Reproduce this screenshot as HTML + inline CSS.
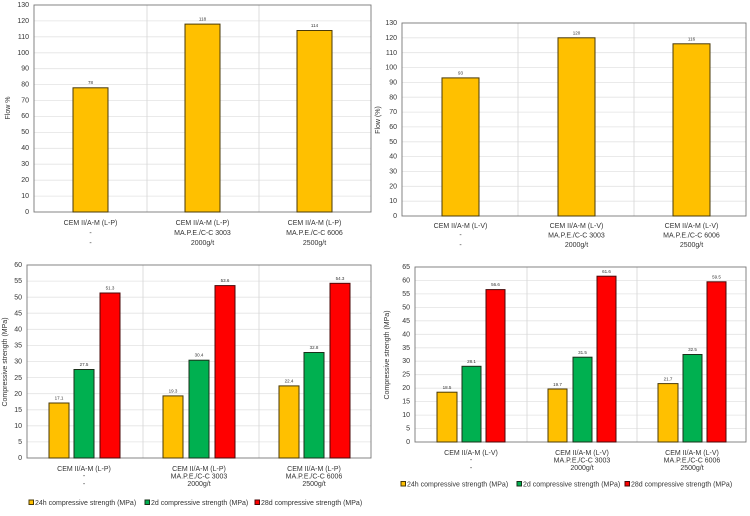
<!DOCTYPE html>
<html><head><meta charset="utf-8"><style>
html,body{margin:0;padding:0;background:#fff;}
svg{display:block;font-family:"Liberation Sans",sans-serif;}
.t{font-size:7px;fill:#333;}
.v{font-size:4.5px;fill:#333;text-anchor:middle;}
.c{font-size:7px;fill:#333;text-anchor:middle;}
.g{stroke:#e3e3e3;stroke-width:0.8;}
.s{stroke:#d6d6d6;stroke-width:0.8;}
.y{fill:#FFC000;stroke:#4a3a08;stroke-width:1;}
.gr{fill:#00B050;stroke:#1a301a;stroke-width:1;}
.r{fill:#FF0000;stroke:#4a0808;stroke-width:1;}
.b{fill:none;stroke:#777;stroke-width:0.9;}
</style></head><body>
<svg width="750" height="516" viewBox="0 0 750 516">
<!-- Chart 1 -->
<g>
<line class="g" x1="34" x2="371" y1="196.1" y2="196.1"/><line class="g" x1="34" x2="371" y1="180.2" y2="180.2"/><line class="g" x1="34" x2="371" y1="164.2" y2="164.2"/><line class="g" x1="34" x2="371" y1="148.3" y2="148.3"/><line class="g" x1="34" x2="371" y1="132.4" y2="132.4"/><line class="g" x1="34" x2="371" y1="116.5" y2="116.5"/><line class="g" x1="34" x2="371" y1="100.5" y2="100.5"/><line class="g" x1="34" x2="371" y1="84.6" y2="84.6"/><line class="g" x1="34" x2="371" y1="68.7" y2="68.7"/><line class="g" x1="34" x2="371" y1="52.8" y2="52.8"/><line class="g" x1="34" x2="371" y1="36.8" y2="36.8"/><line class="g" x1="34" x2="371" y1="20.9" y2="20.9"/>
<line class="s" x1="147" x2="147" y1="5" y2="212"/><line class="s" x1="259" x2="259" y1="5" y2="212"/>
<rect class="b" x="34" y="5" width="337" height="207"/>
<g class="t" text-anchor="end"><text x="29" y="214">0</text><text x="29" y="198">10</text><text x="29" y="182">20</text><text x="29" y="166">30</text><text x="29" y="150">40</text><text x="29" y="134">50</text><text x="29" y="118">60</text><text x="29" y="102.5">70</text><text x="29" y="86.5">80</text><text x="29" y="70.5">90</text><text x="29" y="55">100</text><text x="29" y="39">110</text><text x="29" y="23">120</text><text x="29" y="7">130</text></g>
<rect class="y" x="73" y="87.8" width="35" height="124.2"/><rect class="y" x="185" y="24.1" width="35" height="187.9"/><rect class="y" x="297" y="30.5" width="35" height="181.5"/>
<text class="v" x="90.5" y="84">78</text><text class="v" x="202.5" y="20.5">118</text><text class="v" x="314.5" y="27">114</text>
<text class="t" transform="translate(10,108) rotate(-90)" text-anchor="middle">Flow %</text>
<g class="c"><text x="90.5" y="225">CEM II/A-M (L-P)</text><text x="90.5" y="235">-</text><text x="90.5" y="245">-</text>
<text x="202.5" y="225">CEM II/A-M (L-P)</text><text x="202.5" y="235">MA.P.E./C-C 3003</text><text x="202.5" y="245">2000g/t</text>
<text x="314.5" y="225">CEM II/A-M (L-P)</text><text x="314.5" y="235">MA.P.E./C-C 6006</text><text x="314.5" y="245">2500g/t</text></g>
</g>
<!-- Chart 2 -->
<g>
<line class="g" x1="402" x2="746" y1="201.2" y2="201.2"/><line class="g" x1="402" x2="746" y1="186.3" y2="186.3"/><line class="g" x1="402" x2="746" y1="171.5" y2="171.5"/><line class="g" x1="402" x2="746" y1="156.6" y2="156.6"/><line class="g" x1="402" x2="746" y1="141.8" y2="141.8"/><line class="g" x1="402" x2="746" y1="126.9" y2="126.9"/><line class="g" x1="402" x2="746" y1="112.1" y2="112.1"/><line class="g" x1="402" x2="746" y1="97.2" y2="97.2"/><line class="g" x1="402" x2="746" y1="82.4" y2="82.4"/><line class="g" x1="402" x2="746" y1="67.5" y2="67.5"/><line class="g" x1="402" x2="746" y1="52.7" y2="52.7"/><line class="g" x1="402" x2="746" y1="37.8" y2="37.8"/>
<line class="s" x1="518" x2="518" y1="23" y2="216"/><line class="s" x1="634" x2="634" y1="23" y2="216"/>
<rect class="b" x="402" y="23" width="344" height="193"/>
<g class="t" text-anchor="end"><text x="397" y="218">0</text><text x="397" y="203">10</text><text x="397" y="188.5">20</text><text x="397" y="173.5">30</text><text x="397" y="158.5">40</text><text x="397" y="144">50</text><text x="397" y="129">60</text><text x="397" y="114">70</text><text x="397" y="99.5">80</text><text x="397" y="84.5">90</text><text x="397" y="69.5">100</text><text x="397" y="55">110</text><text x="397" y="40">120</text><text x="397" y="25">130</text></g>
<rect class="y" x="442" y="77.9" width="37" height="138.1"/><rect class="y" x="558" y="37.8" width="37" height="178.2"/><rect class="y" x="673" y="43.8" width="37" height="172.2"/>
<text class="v" x="460.5" y="74.5">93</text><text class="v" x="576.5" y="34.5">120</text><text class="v" x="691.5" y="40.5">116</text>
<text class="t" transform="translate(380,120) rotate(-90)" text-anchor="middle">Flow (%)</text>
<g class="c"><text x="460.5" y="228">CEM II/A-M (L-V)</text><text x="460.5" y="237">-</text><text x="460.5" y="247">-</text>
<text x="576.5" y="228">CEM II/A-M (L-V)</text><text x="576.5" y="237.5">MA.P.E./C-C 3003</text><text x="576.5" y="247">2000g/t</text>
<text x="691.5" y="228">CEM II/A-M (L-V)</text><text x="691.5" y="237.5">MA.P.E./C-C 6006</text><text x="691.5" y="247">2500g/t</text></g>
</g>
<!-- Chart 3 -->
<g>
<line class="g" x1="27" x2="371" y1="441.9" y2="441.9"/><line class="g" x1="27" x2="371" y1="425.8" y2="425.8"/><line class="g" x1="27" x2="371" y1="409.8" y2="409.8"/><line class="g" x1="27" x2="371" y1="393.7" y2="393.7"/><line class="g" x1="27" x2="371" y1="377.6" y2="377.6"/><line class="g" x1="27" x2="371" y1="361.5" y2="361.5"/><line class="g" x1="27" x2="371" y1="345.4" y2="345.4"/><line class="g" x1="27" x2="371" y1="329.3" y2="329.3"/><line class="g" x1="27" x2="371" y1="313.2" y2="313.2"/><line class="g" x1="27" x2="371" y1="297.2" y2="297.2"/><line class="g" x1="27" x2="371" y1="281.1" y2="281.1"/>
<line class="s" x1="143" x2="143" y1="265" y2="458"/><line class="s" x1="259" x2="259" y1="265" y2="458"/>
<rect class="b" x="27" y="265" width="344" height="193"/>
<g class="t" text-anchor="end"><text x="22" y="460">0</text><text x="22" y="444">5</text><text x="22" y="428">10</text><text x="22" y="412">15</text><text x="22" y="396">20</text><text x="22" y="380">25</text><text x="22" y="363.5">30</text><text x="22" y="347.5">35</text><text x="22" y="331.5">40</text><text x="22" y="315.5">45</text><text x="22" y="299.5">50</text><text x="22" y="283">55</text><text x="22" y="267">60</text></g>
<rect class="y" x="49" y="403" width="20" height="55"/><rect class="gr" x="74" y="369.5" width="20" height="88.5"/><rect class="r" x="100" y="293" width="20" height="165"/>
<rect class="y" x="163" y="395.9" width="20" height="62.1"/><rect class="gr" x="189" y="360.2" width="20" height="97.8"/><rect class="r" x="215" y="285.6" width="20" height="172.4"/>
<rect class="y" x="279" y="385.9" width="20" height="72.1"/><rect class="gr" x="304" y="352.5" width="20" height="105.5"/><rect class="r" x="330" y="283.3" width="20" height="174.7"/>
<text class="v" x="59" y="399.5">17.1</text><text class="v" x="84" y="366">27.5</text><text class="v" x="110" y="289.5">51.3</text>
<text class="v" x="173" y="392.5">19.3</text><text class="v" x="199" y="356.5">30.4</text><text class="v" x="225" y="282">53.6</text>
<text class="v" x="289" y="382.5">22.4</text><text class="v" x="314" y="349">32.8</text><text class="v" x="340" y="280">54.3</text>
<text class="t" transform="translate(7,362) rotate(-90)" text-anchor="middle">Compressive strength (MPa)</text>
<g class="c"><text x="84" y="471">CEM II/A-M (L-P)</text><text x="84" y="478">-</text><text x="84" y="486">-</text>
<text x="199" y="471">CEM II/A-M (L-P)</text><text x="199" y="478.5">MA.P.E./C-C 3003</text><text x="199" y="486">2000g/t</text>
<text x="314" y="471">CEM II/A-M (L-P)</text><text x="314" y="478.5">MA.P.E./C-C 6006</text><text x="314" y="486">2500g/t</text></g>
<rect class="y" x="29" y="500" width="4.5" height="4.5"/><text class="t" x="35" y="505">24h compressive strength (MPa)</text>
<rect class="gr" x="145" y="500" width="4.5" height="4.5"/><text class="t" x="151" y="505">2d compressive strength (MPa)</text>
<rect class="r" x="255" y="500" width="4.5" height="4.5"/><text class="t" x="261" y="505">28d compressive strength (MPa)</text>
</g>
<!-- Chart 4 -->
<g>
<line class="g" x1="415" x2="746" y1="428.5" y2="428.5"/><line class="g" x1="415" x2="746" y1="415.1" y2="415.1"/><line class="g" x1="415" x2="746" y1="401.6" y2="401.6"/><line class="g" x1="415" x2="746" y1="388.2" y2="388.2"/><line class="g" x1="415" x2="746" y1="374.7" y2="374.7"/><line class="g" x1="415" x2="746" y1="361.2" y2="361.2"/><line class="g" x1="415" x2="746" y1="347.8" y2="347.8"/><line class="g" x1="415" x2="746" y1="334.3" y2="334.3"/><line class="g" x1="415" x2="746" y1="320.8" y2="320.8"/><line class="g" x1="415" x2="746" y1="307.4" y2="307.4"/><line class="g" x1="415" x2="746" y1="293.9" y2="293.9"/><line class="g" x1="415" x2="746" y1="280.5" y2="280.5"/>
<line class="s" x1="527" x2="527" y1="267" y2="442"/><line class="s" x1="637" x2="637" y1="267" y2="442"/>
<rect class="b" x="415" y="267" width="331" height="175"/>
<g class="t" text-anchor="end"><text x="410" y="444">0</text><text x="410" y="430.5">5</text><text x="410" y="417">10</text><text x="410" y="403.5">15</text><text x="410" y="390">20</text><text x="410" y="376.5">25</text><text x="410" y="363">30</text><text x="410" y="350">35</text><text x="410" y="336.5">40</text><text x="410" y="323">45</text><text x="410" y="309.5">50</text><text x="410" y="296">55</text><text x="410" y="282.5">60</text><text x="410" y="269">65</text></g>
<rect class="y" x="437" y="392.2" width="20" height="49.8"/><rect class="gr" x="462" y="366.3" width="19" height="75.7"/><rect class="r" x="486" y="289.6" width="19" height="152.4"/>
<rect class="y" x="548" y="389" width="19" height="53"/><rect class="gr" x="573" y="357.2" width="19" height="84.8"/><rect class="r" x="597" y="276.2" width="19" height="165.8"/>
<rect class="y" x="658" y="383.6" width="20" height="58.4"/><rect class="gr" x="683" y="354.5" width="19" height="87.5"/><rect class="r" x="707" y="281.8" width="19" height="160.2"/>
<text class="v" x="447" y="389">18.5</text><text class="v" x="471.5" y="363">28.1</text><text class="v" x="495.5" y="286">56.6</text>
<text class="v" x="557.5" y="386">19.7</text><text class="v" x="582.5" y="354">31.5</text><text class="v" x="606.5" y="273">61.6</text>
<text class="v" x="668" y="380.5">21.7</text><text class="v" x="692.5" y="351">32.5</text><text class="v" x="716.5" y="278.5">59.5</text>
<text class="t" transform="translate(389,355) rotate(-90)" text-anchor="middle">Compressive strength (MPa)</text>
<g class="c"><text x="471" y="455">CEM II/A-M (L-V)</text><text x="471" y="462">-</text><text x="471" y="470">-</text>
<text x="582" y="455">CEM II/A-M (L-V)</text><text x="582" y="462.5">MA.P.E./C-C 3003</text><text x="582" y="470">2000g/t</text>
<text x="692" y="455">CEM II/A-M (L-V)</text><text x="692" y="462.5">MA.P.E./C-C 6006</text><text x="692" y="470">2500g/t</text></g>
<rect class="y" x="401" y="481.5" width="4.5" height="4.5"/><text class="t" x="407" y="486.5">24h compressive strength (MPa)</text>
<rect class="gr" x="517" y="481.5" width="4.5" height="4.5"/><text class="t" x="523" y="486.5">2d compressive strength (MPa)</text>
<rect class="r" x="625" y="481.5" width="4.5" height="4.5"/><text class="t" x="631" y="486.5">28d compressive strength (MPa)</text>
</g>
</svg>
</body></html>
